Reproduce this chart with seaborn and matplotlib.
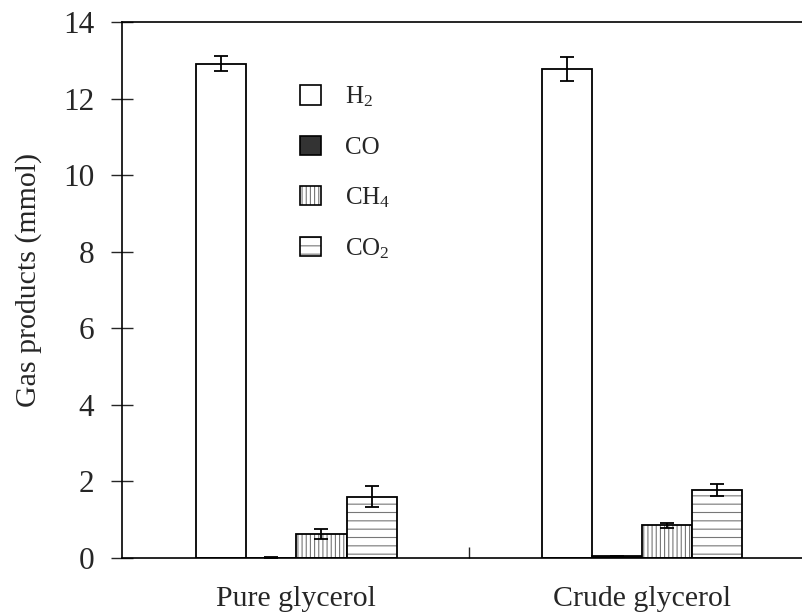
import matplotlib
matplotlib.use("Agg")
import matplotlib.pyplot as plt
import matplotlib.colors as mcolors
from matplotlib.patches import Patch
import seaborn as sns
import pandas as pd
import numpy as np

samples = ["Pure glycerol", "Crude glycerol"]
gases = ["H2", "CO", "CH4", "CO2"]
gas_labels = [r"$\mathregular{H_2}$", "CO", r"$\mathregular{CH_4}$", r"$\mathregular{CO_2}$"]
pure_vals = [12.91, 0.01, 0.63, 1.60]
pure_err = [0.20, 0.005, 0.13, 0.27]
crude_vals = [12.77, 0.04, 0.85, 1.78]
crude_err = [0.31, 0.01, 0.07, 0.15]
yticks = [0, 2, 4, 6, 8, 10, 12, 14]

fills = ["white", "#333333", "white", "white"]
hatches = ["", "", "||||", "--"]

rows = []
for s, vals, errs in [(samples[0], pure_vals, pure_err), (samples[1], crude_vals, crude_err)]:
    for g, v, e in zip(gases, vals, errs):
        rows.append({"sample": s, "gas": g, "value": v, "err": e})
df = pd.DataFrame(rows)

sns.set_style("ticks")
plt.rcParams["font.family"] = ["Liberation Serif", "DejaVu Serif"]
plt.rcParams["mathtext.fontset"] = "custom"
plt.rcParams["mathtext.rm"] = "Liberation Serif"
plt.rcParams["hatch.linewidth"] = 0.8

fig = plt.figure(figsize=(8.02, 6.15), dpi=100)
ax = fig.add_axes([0.152, 0.0927, 0.848, 0.8715])

sns.barplot(data=df, x="sample", y="value", hue="gas", order=samples, hue_order=gases,
            palette=dict(zip(gases, fills)), width=0.58, errorbar=None,
            edgecolor="black", linewidth=1.3, ax=ax, legend=False)

for cont, g, h in zip(ax.containers, gases, hatches):
    sub = df[df.gas == g].set_index("sample").loc[samples]
    xs = [p.get_x() + p.get_width() / 2 for p in cont.patches]
    for p in cont.patches:
        p.set_hatch(h)
        p._hatch_color = mcolors.to_rgba("#777777")
    ax.errorbar(xs, sub["value"].values, yerr=sub["err"].values, fmt="none",
                ecolor="black", elinewidth=1.3, capsize=5, capthick=1.3, zorder=5)

ax.set_ylim(0, 14)
ax.set_yticks(yticks)
ax.set_xlim(-0.505, 1.463)
ax.set_xlabel("")
ax.set_ylabel("Gas products (mmol)", fontsize=21.5)
ax.yaxis.set_label_coords(-0.117, 0.519)
ax.tick_params(axis="y", direction="inout", length=16, width=1, labelsize=22.5, pad=12)
ax.tick_params(axis="x", which="major", length=0, labelsize=21.5, pad=20)
ax.set_xticks([0.5], minor=True)
ax.tick_params(axis="x", which="minor", direction="in", length=8, width=1)
for side in ["left", "bottom", "top"]:
    ax.spines[side].set_visible(True)
    ax.spines[side].set_linewidth(1.2)
    ax.spines[side].set_color("black")
ax.spines["right"].set_visible(False)

handles = []
for f, h in zip(fills, hatches):
    p = Patch(facecolor=f, edgecolor="black", hatch=h, linewidth=1.2)
    p._hatch_color = mcolors.to_rgba("#777777")
    handles.append(p)
ax.legend(handles, gas_labels, loc="upper left", bbox_to_anchor=(0.262, 0.883),
          frameon=False, fontsize=18, handlelength=0.83, handleheight=0.83,
          labelspacing=1.05, handletextpad=0.95, borderpad=0, borderaxespad=0)

fig.savefig("out.png", dpi=100)
